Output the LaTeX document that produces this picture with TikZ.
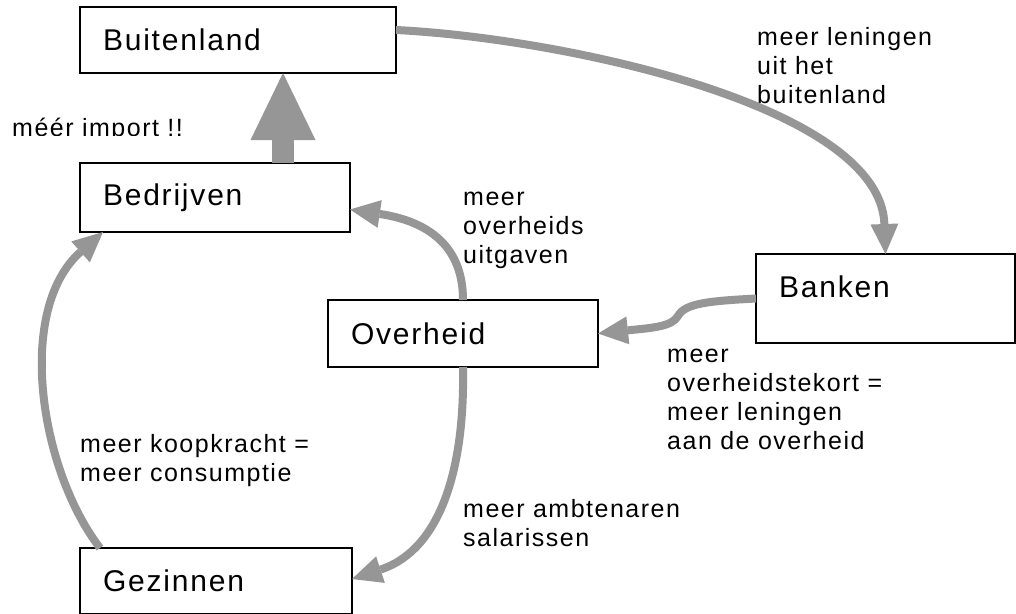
\documentclass[tikz,border=0pt]{standalone}
\usepackage{fontspec}
\setmainfont{Liberation Sans}[LetterSpace=6]
\usetikzlibrary{arrows.meta}
\definecolor{flow}{RGB}{150,150,150}
\begin{document}
\begin{tikzpicture}[x=1pt,y=-1pt,
  box/.style={draw=black, line width=2pt, outer sep=0pt, inner xsep=23pt, inner ysep=0pt,
    anchor=north west, align=left, font=\fontsize{30}{36}\selectfont},
  lbl/.style={anchor=base west, inner sep=0pt, font=\fontsize{25}{29}\selectfont},
  flowarrow/.style={draw=flow, line width=8pt, -{Triangle[width=28pt,length=30pt,line width=0pt]}},
  bigarrow/.style={draw=flow, line width=22pt, -{Triangle[width=65pt,length=67pt,line width=0pt]}}]
\useasboundingbox (0,0) rectangle (1016,613);
\clip (0,0) rectangle (1016,613);
\fill[white] (0,0) rectangle (1016,613);

% boxes
\node[box, minimum width=316pt, minimum height=66pt, text width=270pt] (buit) at (80,7) {Buitenland};
\node[box, minimum width=270pt, minimum height=69pt, text width=224pt] (bedr) at (80,163) {Bedrijven};
\node[box, minimum width=270pt, minimum height=67pt, text width=224pt] (overh) at (328,300) {Overheid};
\node[box, minimum width=259pt, minimum height=89pt, text width=213pt, text depth=24pt] (bank) at (756,254) {Banken};
\node[box, minimum width=272pt, minimum height=66pt, text width=226pt] (gez) at (80,548) {Gezinnen};

% labels
\node[lbl] (llen) at (757,45) {\begin{tabular}[t]{@{}l@{}}meer leningen\\uit het\\buitenland\end{tabular}};
\begin{scope}
  \clip (0,100) rectangle (250,135);
  \node[lbl] (limp) at (12,136) {méér import !!};
\end{scope}
\node[lbl] (luit) at (463,205) {\begin{tabular}[t]{@{}l@{}}meer\\overheids\\uitgaven\end{tabular}};
\node[lbl] (ltek) at (667,362) {\begin{tabular}[t]{@{}l@{}}meer\\overheidstekort =\\meer leningen\\aan de overheid\end{tabular}};
\node[lbl] (lkoop) at (80,452) {\begin{tabular}[t]{@{}l@{}}meer koopkracht =\\meer consumptie\end{tabular}};
\node[lbl] (lamb) at (463,517) {\begin{tabular}[t]{@{}l@{}}meer ambtenaren\\salarissen\end{tabular}};

% connectors
\draw[bigarrow] ([xshift=68pt]bedr.north) -- ([xshift=45pt]buit.south);
\draw[flowarrow] ([yshift=10pt]buit.east) .. controls (560,38) and (880,105) .. (bank.north);
\draw[flowarrow] (bank.west) .. controls (710,301) and (685,303) .. (678,316)
  .. controls (672,327) and (650,328) .. (overh.east);
\draw[flowarrow] (overh.north) .. controls (463,240) and (420,220) .. ([yshift=-12pt]bedr.east);
\draw[flowarrow] (overh.south) .. controls (465,470) and (440,550) .. ([yshift=2pt]gez.east);
\draw[flowarrow] ([xshift=20pt]gez.north west) .. controls (40,470) and (15,310) .. ([xshift=23pt]bedr.south west);
\end{tikzpicture}
\end{document}
